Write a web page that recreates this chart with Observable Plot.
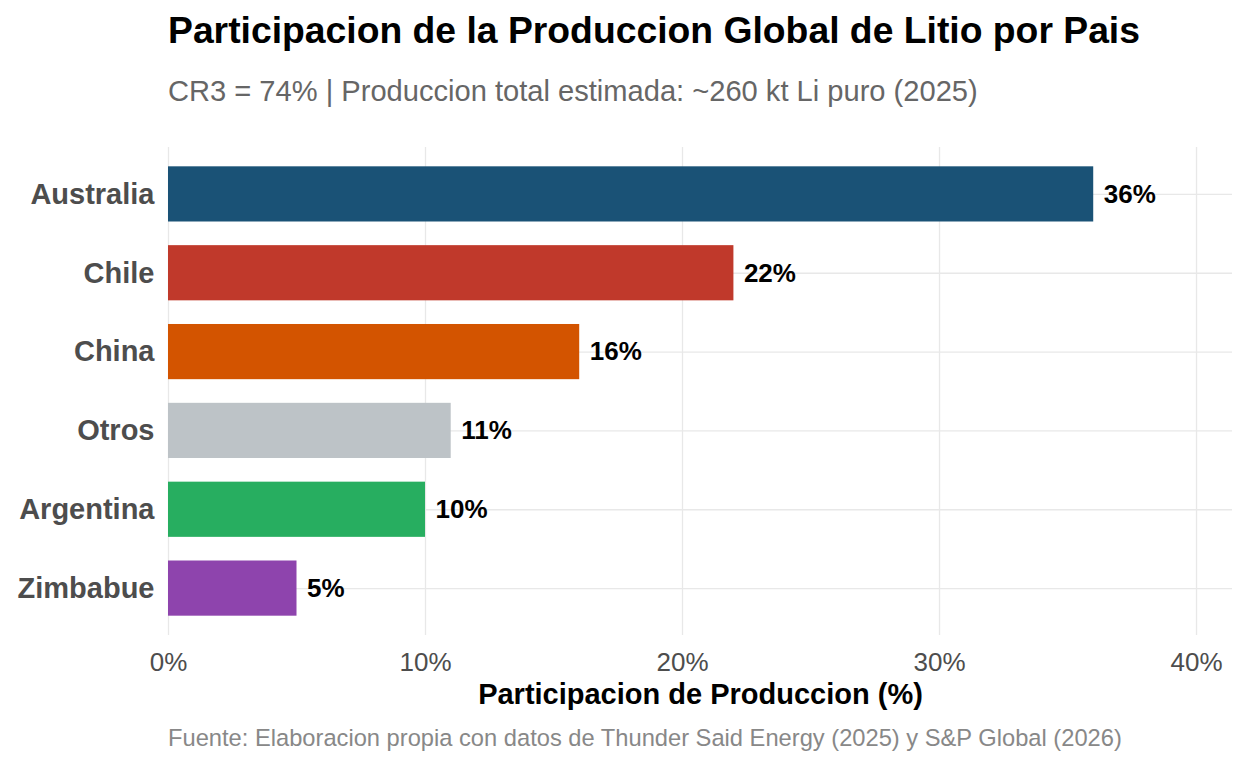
<!DOCTYPE html>
<html lang="es">
<head>
<meta charset="utf-8">
<title>Participacion de la Produccion Global de Litio por Pais</title>
<script src="https://cdn.jsdelivr.net/npm/d3@7"></script>
<script src="https://cdn.jsdelivr.net/npm/@observablehq/plot@0.6"></script>
<style>
  html, body { margin: 0; padding: 0; background: #fff; }
  body { width: 1248px; height: 768px; position: relative; overflow: hidden;
         font-family: "Liberation Sans", Arial, sans-serif; }
  #header { position: relative; height: 130px; }
  #titulo { position: absolute; left: 168px; top: 11.5px; font-size: 37.3px; line-height: 37.3px;
            font-weight: bold; color: #000; white-space: nowrap; }
  #subtitulo { position: absolute; left: 168px; top: 76.5px; font-size: 29.1px; line-height: 29.1px;
               color: #666; white-space: nowrap; }
  #grafico svg { display: block; }
  #fuente { position: absolute; left: 168px; top: 727px; font-size: 23.7px; line-height: 23.7px;
            color: #888; white-space: nowrap; }
</style>
</head>
<body>
<div id="header">
  <div id="titulo">Participacion de la Produccion Global de Litio por Pais</div>
  <div id="subtitulo">CR3 = 74% | Produccion total estimada: ~260 kt Li puro (2025)</div>
</div>
<div id="grafico"></div>
<div id="fuente">Fuente: Elaboracion propia con datos de Thunder Said Energy (2025) y S&amp;P Global (2026)</div>

<script>
// Participacion de cada pais en la produccion mundial de litio (%)
const paises = ["Australia", "Chile", "China", "Otros", "Argentina", "Zimbabue"];
const participacion = [36, 22, 16, 11, 10, 5];
const colores = ["#1A5276", "#C0392B", "#D35400", "#BDC3C7", "#27AE60", "#8E44AD"];
const ticksX = [0, 10, 20, 30, 40];
const tituloEjeX = "Participacion de Produccion (%)";

const datos = paises.map((pais, i) => ({pais, valor: participacion[i]}));

const fuente = "Liberation Sans, Arial, sans-serif";
const gris = "#4d4d4d";
const rejilla = "#e8e8e8";

const grafico = Plot.plot({
  width: 1248,
  height: 585,
  marginTop: 17,
  marginBottom: 80,
  marginLeft: 168,
  marginRight: 16,
  style: {fontFamily: fuente, background: "#fff"},
  x: {domain: [0, 36 * 1.15], label: null},
  y: {domain: paises, paddingInner: 0.3, paddingOuter: 0.245, round: false, label: null},
  color: {domain: paises, range: colores},
  marks: [
    Plot.gridX(ticksX, {stroke: rejilla, strokeOpacity: 1, strokeWidth: 1.3}),
    Plot.gridY({stroke: rejilla, strokeOpacity: 1, strokeWidth: 1.3}),
    Plot.barX(datos, {x: "valor", y: "pais", fill: "pais"}),
    Plot.text(datos, {
      x: "valor", y: "pais", text: d => d.valor + "%",
      textAnchor: "start", dx: 10, fontSize: 26, fontWeight: "bold", fill: "#000"
    }),
    Plot.axisX(ticksX, {
      tickSize: 0, tickPadding: 17, tickFormat: d => d + "%",
      fontSize: 26, color: gris, label: null
    }),
    Plot.axisY({
      tickSize: 0, tickPadding: 14, fontSize: 29, fontWeight: "bold", color: gris, label: null
    }),
    Plot.text([tituloEjeX], {
      frameAnchor: "bottom", dy: 68, text: d => d,
      fontSize: 29, fontWeight: "bold", fill: "#000"
    })
  ]
});

document.getElementById("grafico").appendChild(grafico);
</script>
</body>
</html>
